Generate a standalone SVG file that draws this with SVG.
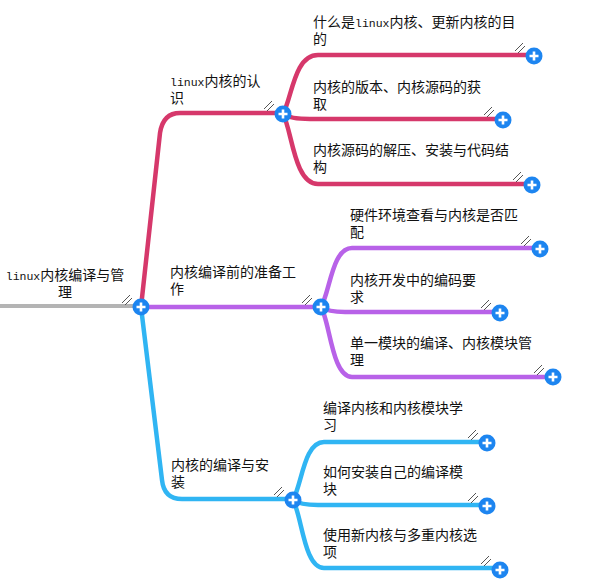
<svg xmlns="http://www.w3.org/2000/svg" width="602" height="588" viewBox="0 0 602 588">
<style>
.t{font-family:"Liberation Sans","Noto Sans CJK SC",sans-serif;font-size:14px;fill:#111}
.m{font-family:"Liberation Mono","DejaVu Sans Mono",monospace;font-size:11.5px}
.br{fill:none;stroke-width:4.5;stroke-linecap:round;stroke-linejoin:round}
.red{stroke:#D6386B}
.pur{stroke:#B862E8}
.blu{stroke:#30B5F3}
.grip{fill:none;stroke:#555;stroke-width:1}
</style>
<defs>
<g id="plus"><circle r="8.5" fill="#1D85F0"/><path d="M-4.5,0H4.5M0,-4.5V4.5" stroke="#fff" stroke-width="2.6"/></g>
<path id="grip" d="M0,8L8,0M3,10L10,3"/>
</defs>
<g id="connectors">
<path d="M0,306H141" fill="none" stroke="#B4B4B4" stroke-width="4"/>
<path class="br red" d="M141,307L160,133Q163,113 180,113L283,113"/>
<path class="br pur" d="M141,307L321,307"/>
<path class="br blu" d="M141,307L162,480Q164,499 182,499L293,499"/>
<path class="br red" d="M283,114C292,98 294,55 318,55L534,55"/>
<path class="br red" d="M283,114Q290,119 310,119L503,119"/>
<path class="br red" d="M283,114C292,130 294,184 318,184L532,184"/>
<path class="br pur" d="M321,307C330,292 332,248 352,248L540,248"/>
<path class="br pur" d="M321,307Q328,312 345,312L500,312"/>
<path class="br pur" d="M321,307C330,322 332,377 352,377L553,377"/>
<path class="br blu" d="M293,500C302,484 304,442 324,442L487,442"/>
<path class="br blu" d="M293,500Q300,505 318,505L487,505"/>
<path class="br blu" d="M293,500C302,516 304,568 324,568L500,568"/>
</g>
<g id="root">
<text class="t" text-anchor="middle"><tspan x="65" y="280"><tspan class="m">linux</tspan>内核编译与管</tspan><tspan x="65" dy="17">理</tspan></text>
<use href="#grip" class="grip" x="122" y="295"/>
<use href="#plus" x="141" y="307"/>
</g>
<g id="n-red">
<text class="t"><tspan x="170" y="86"><tspan class="m">linux</tspan>内核的认</tspan><tspan x="170" dy="17">识</tspan></text>
<use href="#grip" class="grip" x="264" y="101"/>
<use href="#plus" x="283" y="114"/>
</g>
<g id="n-red-1">
<text class="t"><tspan x="313" y="27">什么是<tspan class="m">linux</tspan>内核、更新内核的目</tspan><tspan x="313" dy="17">的</tspan></text>
<use href="#grip" class="grip" x="515" y="43"/>
<use href="#plus" x="534" y="56"/>
</g>
<g id="n-red-2">
<text class="t"><tspan x="313" y="92">内核的版本、内核源码的获</tspan><tspan x="313" dy="17">取</tspan></text>
<use href="#grip" class="grip" x="484" y="107"/>
<use href="#plus" x="503" y="120"/>
</g>
<g id="n-red-3">
<text class="t"><tspan x="313" y="155">内核源码的解压、安装与代码结</tspan><tspan x="313" dy="17">构</tspan></text>
<use href="#grip" class="grip" x="513" y="172"/>
<use href="#plus" x="532" y="185"/>
</g>
<g id="n-pur">
<text class="t"><tspan x="170" y="277">内核编译前的准备工</tspan><tspan x="170" dy="17">作</tspan></text>
<use href="#grip" class="grip" x="302" y="295"/>
<use href="#plus" x="321" y="307"/>
</g>
<g id="n-pur-1">
<text class="t"><tspan x="350" y="220">硬件环境查看与内核是否匹</tspan><tspan x="350" dy="17">配</tspan></text>
<use href="#grip" class="grip" x="521" y="236"/>
<use href="#plus" x="540" y="249"/>
</g>
<g id="n-pur-2">
<text class="t"><tspan x="350" y="285">内核开发中的编码要</tspan><tspan x="350" dy="17">求</tspan></text>
<use href="#grip" class="grip" x="481" y="300"/>
<use href="#plus" x="500" y="313"/>
</g>
<g id="n-pur-3">
<text class="t"><tspan x="350" y="348">单一模块的编译、内核模块管</tspan><tspan x="350" dy="17">理</tspan></text>
<use href="#grip" class="grip" x="534" y="365"/>
<use href="#plus" x="553" y="377"/>
</g>
<g id="n-blu">
<text class="t"><tspan x="171" y="470">内核的编译与安</tspan><tspan x="171" dy="17">装</tspan></text>
<use href="#grip" class="grip" x="274" y="487"/>
<use href="#plus" x="293" y="500"/>
</g>
<g id="n-blu-1">
<text class="t"><tspan x="323" y="413">编译内核和内核模块学</tspan><tspan x="323" dy="17">习</tspan></text>
<use href="#grip" class="grip" x="468" y="430"/>
<use href="#plus" x="487" y="443"/>
</g>
<g id="n-blu-2">
<text class="t"><tspan x="323" y="477">如何安装自己的编译模</tspan><tspan x="323" dy="17">块</tspan></text>
<use href="#grip" class="grip" x="468" y="493"/>
<use href="#plus" x="487" y="506"/>
</g>
<g id="n-blu-3">
<text class="t"><tspan x="323" y="540">使用新内核与多重内核选</tspan><tspan x="323" dy="17">项</tspan></text>
<use href="#grip" class="grip" x="481" y="556"/>
<use href="#plus" x="500" y="570"/>
</g>
</svg>
